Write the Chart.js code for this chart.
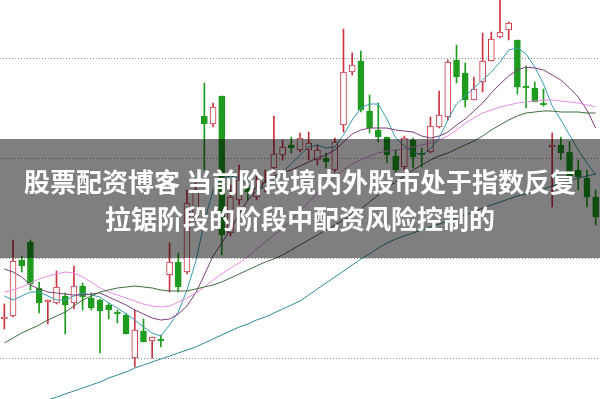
<!DOCTYPE html>
<html>
<head>
<meta charset="utf-8">
<script src="https://cdn.jsdelivr.net/npm/chart.js@4/dist/chart.umd.min.js"></script>
<style>
  html, body { margin: 0; padding: 0; background: #fff; }
  #wrap { width: 600px; height: 399px; }
</style>
</head>
<body>
<div id="wrap"><canvas id="kline" width="600" height="399"></canvas></div>
<script>
// 日K数据
const opens = [9.39, 9.42, 9.98, 10.16, 9.70, 9.56, 9.55, 9.62, 9.55, 9.72,
    9.60, 9.58, 9.53, 9.46, 9.43, 9.00, 9.27, 9.17, 9.19, 9.83,
    9.96, 9.86, 10.41, 11.42, 11.34, 11.62, 10.25, 10.58, 10.70, 10.61,
    10.70, 10.90, 11.03, 11.13, 11.08, 11.08, 10.98, 11.00, 10.88, 11.33,
    11.86, 11.97, 11.47, 11.28, 11.21, 11.02, 10.91, 11.18, 11.05, 11.06,
    11.31, 11.41, 11.98, 11.85, 11.58, 11.76, 11.97, 12.21, 12.28, 12.18,
    11.72, 11.70, 11.55, 11.11, 11.13, 11.06, 10.88, 10.80, 10.61];
const highs = [9.54, 10.18, 10.02, 10.18, 9.76, 9.58, 9.87, 9.65, 9.92, 9.75,
    9.65, 9.59, 9.55, 9.48, 9.45, 9.48, 9.39, 9.21, 9.23, 10.15,
    10.05, 10.68, 10.75, 11.75, 11.55, 11.62, 10.73, 10.93, 10.78, 10.83,
    10.88, 11.42, 11.18, 11.21, 11.25, 11.26, 11.13, 11.05, 11.20, 12.29,
    12.05, 12.07, 11.63, 11.55, 11.21, 11.08, 11.22, 11.20, 11.10, 11.41,
    11.67, 11.98, 12.13, 11.95, 11.81, 12.25, 12.26, 12.62, 12.36, 12.18,
    11.92, 11.76, 11.69, 11.25, 11.21, 11.16, 10.98, 10.88, 10.68];
const lows = [9.29, 9.41, 9.86, 9.68, 9.45, 9.34, 9.54, 9.24, 9.49, 9.48,
    9.48, 9.05, 9.39, 9.35, 9.24, 8.91, 9.16, 9.00, 9.11, 9.66,
    9.66, 9.84, 10.36, 10.88, 11.31, 10.03, 10.22, 10.53, 10.58, 10.58,
    10.66, 10.85, 10.98, 11.05, 11.06, 10.98, 10.93, 10.90, 10.86, 11.26,
    11.83, 11.46, 11.25, 11.16, 10.95, 10.86, 10.88, 10.90, 10.91, 11.05,
    11.30, 11.38, 11.75, 11.51, 11.58, 11.66, 11.97, 12.20, 12.18, 11.64,
    11.50, 11.56, 11.52, 10.51, 10.98, 10.73, 10.68, 10.51, 10.33];
const closes = [9.41, 9.97, 9.92, 9.74, 9.55, 9.58, 9.71, 9.53, 9.72, 9.61,
    9.50, 9.47, 9.48, 9.44, 9.24, 9.28, 9.16, 9.21, 9.17, 9.96,
    9.71, 10.55, 10.66, 11.34, 11.51, 10.23, 10.61, 10.78, 10.66, 10.70,
    10.76, 11.04, 11.11, 11.10, 11.20, 11.15, 11.08, 10.96, 11.16, 11.86,
    11.93, 11.48, 11.30, 11.21, 11.03, 10.88, 11.20, 11.01, 11.03, 11.32,
    11.43, 11.96, 11.81, 11.58, 11.69, 11.97, 12.19, 12.26, 12.35, 11.71,
    11.70, 11.56, 11.53, 11.13, 11.05, 10.80, 10.81, 10.61, 10.41];

// 均线 (同样是读图得到的)
const ma5 = [9.62, 9.58, 9.62, 9.66, 9.66, 9.62, 9.58, 9.58, 9.62, 9.65,
    9.63, 9.61, 9.55, 9.50, 9.44, 9.38, 9.31, 9.25, 9.22, 9.33,
    9.46, 9.68, 9.96, 10.36, 10.68, 10.80, 10.82, 10.80, 10.73, 10.68,
    10.71, 10.79, 10.86, 10.94, 11.03, 11.11, 11.13, 11.10, 11.11, 11.23,
    11.38, 11.50, 11.54, 11.54, 11.39, 11.20, 11.12, 11.06, 11.03, 11.09,
    11.20, 11.38, 11.54, 11.62, 11.70, 11.78, 11.86, 11.96, 12.08, 12.10,
    12.04, 11.91, 11.74, 11.52, 11.38, 11.23, 11.08, 10.95, 10.83];
const ma10 = [9.89, 9.86, 9.81, 9.73, 9.69, 9.66, 9.65, 9.64, 9.63, 9.63,
    9.64, 9.65, 9.61, 9.57, 9.53, 9.48, 9.44, 9.40, 9.38, 9.39,
    9.44, 9.52, 9.65, 9.83, 10.02, 10.15, 10.29, 10.44, 10.58, 10.67,
    10.76, 10.82, 10.86, 10.88, 10.92, 10.96, 11.00, 11.03, 11.08, 11.16,
    11.24, 11.28, 11.30, 11.30, 11.30, 11.28, 11.27, 11.26, 11.22, 11.20,
    11.22, 11.26, 11.33, 11.39, 11.47, 11.55, 11.65, 11.74, 11.82, 11.88,
    11.91, 11.90, 11.88, 11.83, 11.78, 11.70, 11.61, 11.48, 11.30];
const ma20 = [9.66, 9.68, 9.71, 9.75, 9.79, 9.82, 9.84, 9.86, 9.85, 9.81,
    9.76, 9.70, 9.66, 9.63, 9.60, 9.57, 9.54, 9.52, 9.51, 9.52,
    9.56, 9.60, 9.65, 9.71, 9.78, 9.84, 9.90, 9.95, 10.01, 10.09,
    10.16, 10.23, 10.29, 10.38, 10.47, 10.56, 10.65, 10.73, 10.81, 10.88,
    10.94, 10.98, 11.02, 11.05, 11.07, 11.08, 11.09, 11.11, 11.13, 11.15,
    11.18, 11.22, 11.28, 11.35, 11.40, 11.45, 11.48, 11.51, 11.53, 11.55,
    11.56, 11.57, 11.58, 11.58, 11.57, 11.56, 11.55, 11.53, 11.51];
const ma30 = [9.15, 9.20, 9.25, 9.29, 9.33, 9.38, 9.42, 9.46, 9.52, 9.58,
    9.62, 9.66, 9.68, 9.70, 9.71, 9.72, 9.71, 9.70, 9.68, 9.67,
    9.67, 9.67, 9.69, 9.71, 9.73, 9.76, 9.80, 9.84, 9.88, 9.92,
    9.96, 9.99, 10.03, 10.08, 10.13, 10.18, 10.23, 10.28, 10.33, 10.38,
    10.44, 10.49, 10.56, 10.63, 10.70, 10.76, 10.82, 10.88, 10.93, 10.98,
    11.02, 11.05, 11.09, 11.13, 11.17, 11.22, 11.28, 11.33, 11.38, 11.42,
    11.45, 11.46, 11.47, 11.47, 11.46, 11.46, 11.46, 11.45, 11.45];
const ma60 = [8.40, 8.44, 8.48, 8.51, 8.55, 8.58, 8.61, 8.64, 8.67, 8.70,
    8.73, 8.76, 8.80, 8.83, 8.86, 8.90, 8.93, 8.96, 8.99, 9.02,
    9.05, 9.08, 9.11, 9.15, 9.19, 9.23, 9.27, 9.31, 9.34, 9.38,
    9.41, 9.45, 9.49, 9.53, 9.57, 9.63, 9.69, 9.75, 9.81, 9.87,
    9.93, 9.99, 10.04, 10.10, 10.15, 10.19, 10.22, 10.25, 10.28, 10.31,
    10.34, 10.37, 10.40, 10.43, 10.46, 10.50, 10.53, 10.56, 10.59, 10.62,
    10.64, 10.67, 10.69, 10.72, 10.74, 10.77, 10.80, 10.82, 10.84];

const gridValues = [9, 10, 11, 12];
const days = opens.map((_, i) => 'D' + (i + 1));

const titleLines = ['股票配资博客 当前阶段境内外股市处于指数反复', '拉锯阶段的阶段中配资风险控制的'];

document.addEventListener('DOMContentLoaded', () => {
    const RED = '#cc3340';
    const GREEN = '#1f9b1f';
    const isUp = days.map((_, i) => closes[i] >= opens[i]);

    // 半透明横幅 + 标题
    const bannerPlugin = {
        id: 'banner',
        afterDraw: (chart) => {
            const ctx = chart.ctx;
            ctx.save();
            ctx.fillStyle = 'rgba(0, 0, 0, 0.5)';
            ctx.fillRect(0, 139, chart.width, 119);
            ctx.fillStyle = '#fff';
            ctx.font = 'bold 26px "Noto Sans CJK SC"';
            ctx.textAlign = 'center';
            ctx.textBaseline = 'middle';
            ctx.fillText(titleLines[0], chart.width / 2, 182);
            ctx.fillText(titleLines[1], chart.width / 2, 219);
            ctx.restore();
        }
    };

    const maLine = (data, color, order) => ({
        type: 'line', data, borderColor: color, borderWidth: 1,
        pointRadius: 0, tension: 0, fill: false, order
    });

    new Chart(document.getElementById('kline'), {
        data: {
            labels: days,
            datasets: [
                maLine(ma60, '#2f8a96', 0),
                maLine(ma30, '#3d6b3d', 0),
                maLine(ma20, '#e48fe4', 0),
                maLine(ma10, '#7b3f7b', 0),
                maLine(ma5, '#3a9db0', 0),
                {
                    type: 'bar',
                    data: opens.map((o, i) => [o, closes[i]]),
                    backgroundColor: isUp.map(u => u ? '#fff' : GREEN),
                    borderColor: isUp.map(u => u ? RED : GREEN),
                    borderWidth: 1, borderSkipped: false,
                    barThickness: 6, grouped: false, order: 1
                },
                {
                    type: 'bar',
                    data: lows.map((l, i) => [l, highs[i]]),
                    backgroundColor: isUp.map(u => u ? RED : GREEN),
                    borderWidth: 0,
                    barThickness: 1, grouped: false, order: 2
                }
            ]
        },
        options: {
            responsive: false,
            animation: false,
            devicePixelRatio: 1,
            layout: { padding: 0 },
            plugins: { legend: { display: false }, tooltip: { enabled: false } },
            scales: {
                x: { display: false, offset: true },
                y: {
                    min: 8.59, max: 12.58,
                    afterBuildTicks: (scale) => { scale.ticks = gridValues.map(v => ({ value: v })); },
                    ticks: { display: false },
                    // v4: 网格线虚线在 border.dash 里设置
                    border: { display: false, dash: [1, 2] },
                    grid: { color: '#8c8c8c', lineWidth: 1, drawTicks: false }
                }
            }
        },
        plugins: [bannerPlugin]
    });
});
</script>
</body>
</html>
